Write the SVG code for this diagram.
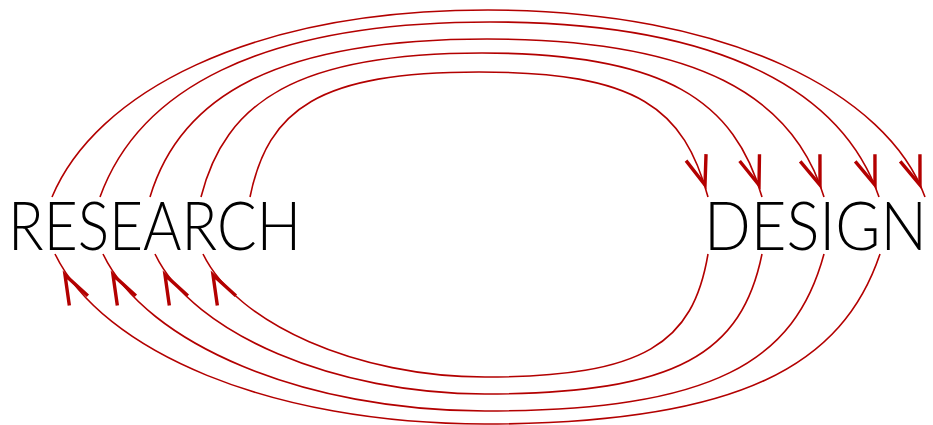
<svg xmlns="http://www.w3.org/2000/svg" width="933" height="425" viewBox="0 0 933 425">
<defs>
<style>
.lbl{font-family:"Lato","Open Sans","Liberation Sans",sans-serif;font-weight:300;font-size:67px;fill:#000}
.arc{fill:none;stroke:#b30000;stroke-width:1.6}
.ah{fill:none;stroke:#b30000;stroke-width:3.4;stroke-linejoin:miter}
</style>
<path id="head" class="ah" d="M-29,-10.5 L0,0 L-29,10.5"/>
</defs>
<rect width="933" height="425" fill="#fff"/>
<g id="connectors">
<path class="arc" d="M52,197 C95,94 248,10 488,10 C728,10 888,94 925,197"/>
<path class="arc" d="M100,197 C138,92 256,22 490,22 C723,22 843,92 879,197"/>
<path class="arc" d="M150,197 C180,97 275,39 487,39 C699,39 794,97 824,197"/>
<path class="arc" d="M201,197 C225,102 297,53 482,53 C667,53 735,102 762,197"/>
<path class="arc" d="M250,197 C268,109 319,72 479,72 C639,72 684,109 708,197"/>
<path class="arc" d="M708,254 C693,343 645,377 485,377 C358,377 237,324 203,254"/>
<path class="arc" d="M762,254 C742,352 679,394 485,394 C336,394 193,334 155,254"/>
<path class="arc" d="M824,254 C795,361 715,411 485,411 C305,411 146,344 103,254"/>
<path class="arc" d="M880,254 C843,364 742,424 485,424 C270,424 102,351 55,254"/>
<use href="#head" transform="translate(920,185) rotate(70)"/>
<use href="#head" transform="translate(875,185) rotate(70)"/>
<use href="#head" transform="translate(820,185) rotate(70)"/>
<use href="#head" transform="translate(759,185) rotate(71)"/>
<use href="#head" transform="translate(705,185) rotate(72)"/>
<use href="#head" transform="translate(65,275) rotate(-118)"/>
<use href="#head" transform="translate(113,275) rotate(-118)"/>
<use href="#head" transform="translate(165,275) rotate(-118)"/>
<use href="#head" transform="translate(213,275) rotate(-118)"/>
</g>
<g id="research">
<text class="lbl" x="8" y="250" textLength="293" lengthAdjust="spacingAndGlyphs">RESEARCH</text>
</g>
<g id="design">
<text class="lbl" x="704" y="250" textLength="223" lengthAdjust="spacingAndGlyphs">DESIGN</text>
</g>
</svg>
